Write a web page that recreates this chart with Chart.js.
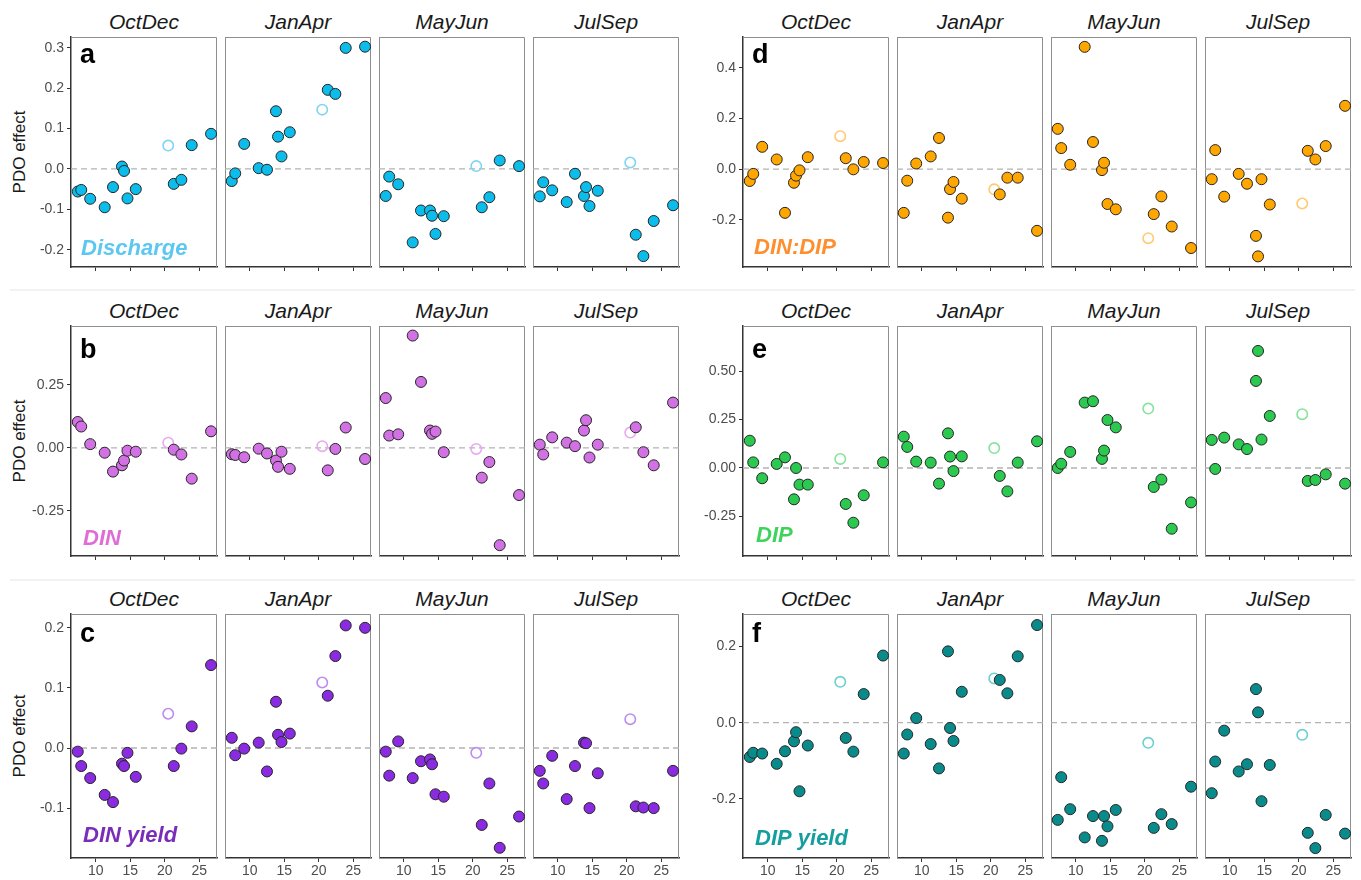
<!DOCTYPE html>
<html>
<head>
<meta charset="utf-8">
<script src="https://cdn.jsdelivr.net/npm/chart.js@4.4.0/dist/chart.umd.min.js"></script>
<style>
  body { margin: 0; background: #fff; font-family: "Liberation Sans", Arial, sans-serif; }
  #wrap { position: relative; width: 1361px; height: 880px; overflow: hidden; }
  #wrap canvas { position: absolute; }
  .facet { position: absolute; width: 146px; text-align: center; font-style: italic; font-size: 21px; line-height: 22px; color: #1a1a1a; }
  .ylab { position: absolute; width: 140px; height: 20px; line-height: 20px; text-align: center; font-size: 17px; color: #1a1a1a; transform: rotate(-90deg); }
  .sep { position: absolute; left: 10px; width: 1345px; height: 2px; background: #f2f2f2; }
</style>
</head>
<body>
<div id="wrap"></div>
<script>
// x position of each site (shared by every panel), the hollow one is site 9
const siteX = [7.4, 7.9, 9.2, 11.3, 12.5, 13.8, 14.1, 14.6, 15.8, 20.5, 21.3, 22.4, 23.9, 26.7];
const hollowSite = 9;
const seasons = ['OctDec', 'JanApr', 'MayJun', 'JulSep'];
const xTicks = [10, 15, 20, 25];

// PDO effect per season (OctDec, JanApr, MayJun, JulSep), one value per site
const discharge = [
  [-0.056, -0.052, -0.074, -0.095, -0.045, 0.006, -0.005, -0.073, -0.050, 0.058, -0.037, -0.027, 0.059, 0.087],
  [-0.030, -0.011, 0.062, 0.002, -0.002, 0.143, 0.080, 0.031, 0.091, 0.147, 0.196, 0.186, 0.300, 0.303],
  [-0.067, -0.019, -0.038, -0.182, -0.103, -0.103, -0.116, -0.161, -0.117, 0.007, -0.095, -0.070, 0.021, 0.007],
  [-0.068, -0.033, -0.053, -0.082, -0.012, -0.067, -0.045, -0.092, -0.054, 0.016, -0.163, -0.216, -0.129, -0.090]
];
const din = [
  [0.103, 0.085, 0.015, -0.019, -0.094, -0.069, -0.050, -0.011, -0.015, 0.021, -0.007, -0.026, -0.122, 0.066],
  [-0.025, -0.028, -0.037, -0.003, -0.022, -0.050, -0.075, -0.015, -0.083, 0.007, -0.089, -0.004, 0.081, -0.044],
  [0.198, 0.049, 0.054, 0.446, 0.262, 0.069, 0.056, 0.065, -0.017, -0.004, -0.118, -0.056, -0.386, -0.187],
  [0.013, -0.026, 0.042, 0.021, 0.007, 0.069, 0.110, -0.038, 0.013, 0.061, 0.082, -0.017, -0.069, 0.180]
];
const dinYield = [
  [-0.006, -0.030, -0.050, -0.078, -0.090, -0.026, -0.030, -0.008, -0.048, 0.057, -0.030, -0.001, 0.036, 0.138],
  [0.017, -0.012, -0.001, 0.009, -0.039, 0.077, 0.022, 0.010, 0.024, 0.109, 0.087, 0.153, 0.204, 0.200],
  [-0.006, -0.046, 0.011, -0.050, -0.022, -0.019, -0.027, -0.077, -0.081, -0.008, -0.128, -0.059, -0.166, -0.114],
  [-0.038, -0.059, -0.013, -0.085, -0.030, 0.009, 0.008, -0.100, -0.042, 0.048, -0.097, -0.099, -0.100, -0.038]
];
const dinDip = [
  [-0.047, -0.019, 0.088, 0.038, -0.173, -0.054, -0.026, -0.005, 0.047, 0.130, 0.043, -0.001, 0.028, 0.024],
  [-0.173, -0.046, 0.022, 0.050, 0.123, -0.192, -0.079, -0.051, -0.117, -0.080, -0.100, -0.034, -0.034, -0.244],
  [0.159, 0.083, 0.017, 0.483, 0.107, -0.004, 0.025, -0.138, -0.159, -0.273, -0.178, -0.108, -0.227, -0.312],
  [-0.040, 0.075, -0.109, -0.019, -0.058, -0.264, -0.345, -0.040, -0.140, -0.136, 0.072, 0.038, 0.091, 0.250]
];
const dip = [
  [0.141, 0.029, -0.053, 0.021, 0.055, -0.162, 0.000, -0.086, -0.086, 0.047, -0.186, -0.283, -0.141, 0.029],
  [0.162, 0.109, 0.033, 0.028, -0.081, 0.179, 0.059, -0.016, 0.060, 0.103, -0.041, -0.121, 0.028, 0.138],
  [0.000, 0.022, 0.083, 0.338, 0.345, 0.047, 0.090, 0.248, 0.210, 0.307, -0.098, -0.060, -0.314, -0.178],
  [0.145, -0.005, 0.157, 0.122, 0.098, 0.450, 0.605, 0.147, 0.269, 0.278, -0.067, -0.062, -0.033, -0.081]
];
const dipYield = [
  [-0.090, -0.079, -0.081, -0.108, -0.075, -0.049, -0.025, -0.180, -0.060, 0.107, -0.040, -0.076, 0.075, 0.176],
  [-0.081, -0.031, 0.012, -0.056, -0.120, 0.187, -0.014, -0.048, 0.081, 0.116, 0.112, 0.077, 0.174, 0.256],
  [-0.255, -0.143, -0.227, -0.301, -0.245, -0.310, -0.245, -0.272, -0.229, -0.053, -0.276, -0.240, -0.266, -0.168],
  [-0.185, -0.102, -0.021, -0.128, -0.109, 0.088, 0.027, -0.206, -0.111, -0.032, -0.289, -0.329, -0.242, -0.291]
];

// y tick labels per panel group
const dischargeTicks = [-0.2, -0.1, 0, 0.1, 0.2, 0.3];
const dinTicks = [-0.25, 0, 0.25];
const dinYieldTicks = [-0.1, 0, 0.1, 0.2];
const dinDipTicks = [-0.2, 0, 0.2, 0.4];
const dipTicks = [-0.25, 0, 0.25, 0.5];
const dipYieldTicks = [-0.2, 0, 0.2];

const groups = [
  { letter: 'a', label: 'Discharge', values: discharge, ticks: dischargeTicks, digits: 1, yRange: [-0.243, 0.327], half: 0, row: 0,
    fill: '#0CBCEB', hollow: '#7ED4F4', text: '#5CC8F2', letterBase: 26, labelBase: -12, labelLeft: 10 },
  { letter: 'b', label: 'DIN', values: din, ticks: dinTicks, digits: 2, yRange: [-0.429, 0.484], half: 0, row: 1,
    fill: '#D271E3', hollow: '#E7A9F0', text: '#E06CD6', letterBase: 32, labelBase: -11, labelLeft: 12 },
  { letter: 'c', label: 'DIN yield', values: dinYield, ticks: dinYieldTicks, digits: 1, yRange: [-0.183, 0.223], half: 0, row: 2,
    fill: '#8A2BE2', hollow: '#BC8DF0', text: '#7A2DB8', letterBase: 27.5, labelBase: -16.5, labelLeft: 12 },
  { letter: 'd', label: 'DIN:DIP', values: dinDip, ticks: dinDipTicks, digits: 1, yRange: [-0.387, 0.522], half: 1, row: 0,
    fill: '#FFA600', hollow: '#FFCA72', text: '#FF8F2E', letterBase: 26, labelBase: -13.5, labelLeft: 11 },
  { letter: 'e', label: 'DIP', values: dip, ticks: dipTicks, digits: 2, yRange: [-0.455, 0.734], half: 1, row: 1,
    fill: '#2BC94F', hollow: '#86E39D', text: '#3FD35B', letterBase: 32, labelBase: -14, labelLeft: 13 },
  { letter: 'f', label: 'DIP yield', values: dipYield, ticks: dipYieldTicks, digits: 1, yRange: [-0.355, 0.285], half: 1, row: 2,
    fill: '#0A8B8B', hollow: '#6CCFCF', text: '#159E9E', letterBase: 27.5, labelBase: -13, labelLeft: 12 }
];

// layout
const halfLeft = [71, 743];
const rowTop = [37, 326, 614];
const rowH = [230, 230, 244];
const PW = 146, STEP = 154, YW = 70;
const X_MIN = 6.42, X_MAX = 27.56;

Chart.defaults.font.family = '"Liberation Sans", Arial, sans-serif';

const wrap = document.getElementById('wrap');

[289, 579].forEach(y => {
  const d = document.createElement('div');
  d.className = 'sep';
  d.style.top = y + 'px';
  wrap.appendChild(d);
});

const panelFrame = {
  id: 'panelFrame',
  beforeDatasetsDraw(chart, args, opts) {
    const { ctx, chartArea: a } = chart;
    ctx.save();
    ctx.strokeStyle = '#8f8f8f';
    ctx.lineWidth = 1;
    ctx.beginPath();
    ctx.moveTo(a.left, a.top + 0.5);
    ctx.lineTo(a.right - 0.5, a.top + 0.5);
    ctx.lineTo(a.right - 0.5, a.bottom);
    if (!opts.first) {
      ctx.moveTo(a.left + 0.5, a.top);
      ctx.lineTo(a.left + 0.5, a.bottom);
    }
    ctx.stroke();
    ctx.restore();
  },
  afterDraw(chart, args, opts) {
    if (!opts.first) return;
    const { ctx, chartArea: a } = chart;
    const g = opts.group;
    ctx.save();
    ctx.textBaseline = 'alphabetic';
    ctx.fillStyle = '#000';
    ctx.font = 'bold 27px "Liberation Sans", Arial, sans-serif';
    ctx.fillText(g.letter, a.left + 9, a.top + g.letterBase);
    ctx.fillStyle = g.text;
    ctx.font = 'italic bold 22px "Liberation Sans", Arial, sans-serif';
    ctx.fillText(g.label, a.left + g.labelLeft, a.bottom + g.labelBase);
    ctx.restore();
  }
};

groups.forEach(g => {
  const top = rowTop[g.row], h = rowH[g.row];
  const bottomRow = g.row === 2;
  const XH = bottomRow ? 30 : 8;

  if (g.half === 0) {
    const yl = document.createElement('div');
    yl.className = 'ylab';
    yl.textContent = 'PDO effect';
    yl.style.left = (20 - 70) + 'px';
    yl.style.top = (top + h / 2 - 10) + 'px';
    wrap.appendChild(yl);
  }

  seasons.forEach((season, i) => {
    const first = i === 0;
    const pLeft = halfLeft[g.half] + i * STEP;
    const yw = first ? YW : 0;

    const title = document.createElement('div');
    title.className = 'facet';
    title.textContent = season;
    title.style.left = pLeft + 'px';
    title.style.top = (top - 26) + 'px';
    wrap.appendChild(title);

    const canvas = document.createElement('canvas');
    const cw = yw + PW + 4;
    const ch = 4 + h + XH;
    canvas.width = cw; canvas.height = ch;
    canvas.style.width = cw + 'px'; canvas.style.height = ch + 'px';
    canvas.style.left = (pLeft - yw) + 'px';
    canvas.style.top = (top - 4) + 'px';
    wrap.appendChild(canvas);

    const vals = g.values[i];
    const filled = [];
    const hollow = [];
    siteX.forEach((x, k) => {
      (k === hollowSite ? hollow : filled).push({ x: x, y: vals[k] });
    });

    new Chart(canvas, {
      type: 'scatter',
      data: {
        datasets: [
          { data: filled, backgroundColor: g.fill, borderColor: '#262626', borderWidth: 1,
            pointRadius: 5.5, order: 0, clip: false },
          { data: hollow, backgroundColor: 'rgba(255,255,255,0)', borderColor: g.hollow, borderWidth: 1.6,
            pointRadius: 5.2, order: 1, clip: false },
          { data: [{ x: X_MIN, y: 0 }, { x: X_MAX, y: 0 }], showLine: true, pointRadius: 0,
            borderColor: '#b3b3b3', borderWidth: 1.3, borderDash: [6, 4], order: 2 }
        ]
      },
      options: {
        responsive: false,
        animation: false,
        devicePixelRatio: 1,
        events: [],
        layout: { autoPadding: false, padding: { top: 4, right: 4, left: 0, bottom: 0 } },
        plugins: {
          legend: { display: false },
          tooltip: { enabled: false },
          panelFrame: { first: first, group: g }
        },
        scales: {
          x: {
            type: 'linear', min: X_MIN, max: X_MAX,
            afterBuildTicks: s => { s.ticks = xTicks.map(v => ({ value: v })); },
            afterFit: s => { s.height = XH; s.paddingLeft = 0; s.paddingRight = 0; },
            ticks: { display: bottomRow, color: '#4d4d4d', font: { size: 14 }, padding: 1, maxRotation: 0 },
            grid: { drawOnChartArea: false, drawTicks: true, tickLength: 4, color: '#333' },
            border: { display: true, color: '#333', width: 1.5 }
          },
          y: {
            display: first,
            min: g.yRange[0], max: g.yRange[1],
            afterBuildTicks: s => { s.ticks = g.ticks.map(v => ({ value: v })); },
            afterFit: s => { s.width = yw; s.paddingTop = 0; s.paddingBottom = 0; },
            ticks: { color: '#4d4d4d', font: { size: 14 }, padding: 3, callback: v => v.toFixed(g.digits) },
            grid: { drawOnChartArea: false, drawTicks: true, tickLength: 4, color: '#333' },
            border: { display: true, color: '#333', width: 1.5 }
          }
        }
      },
      plugins: [panelFrame]
    });
  });
});
</script>
</body>
</html>
